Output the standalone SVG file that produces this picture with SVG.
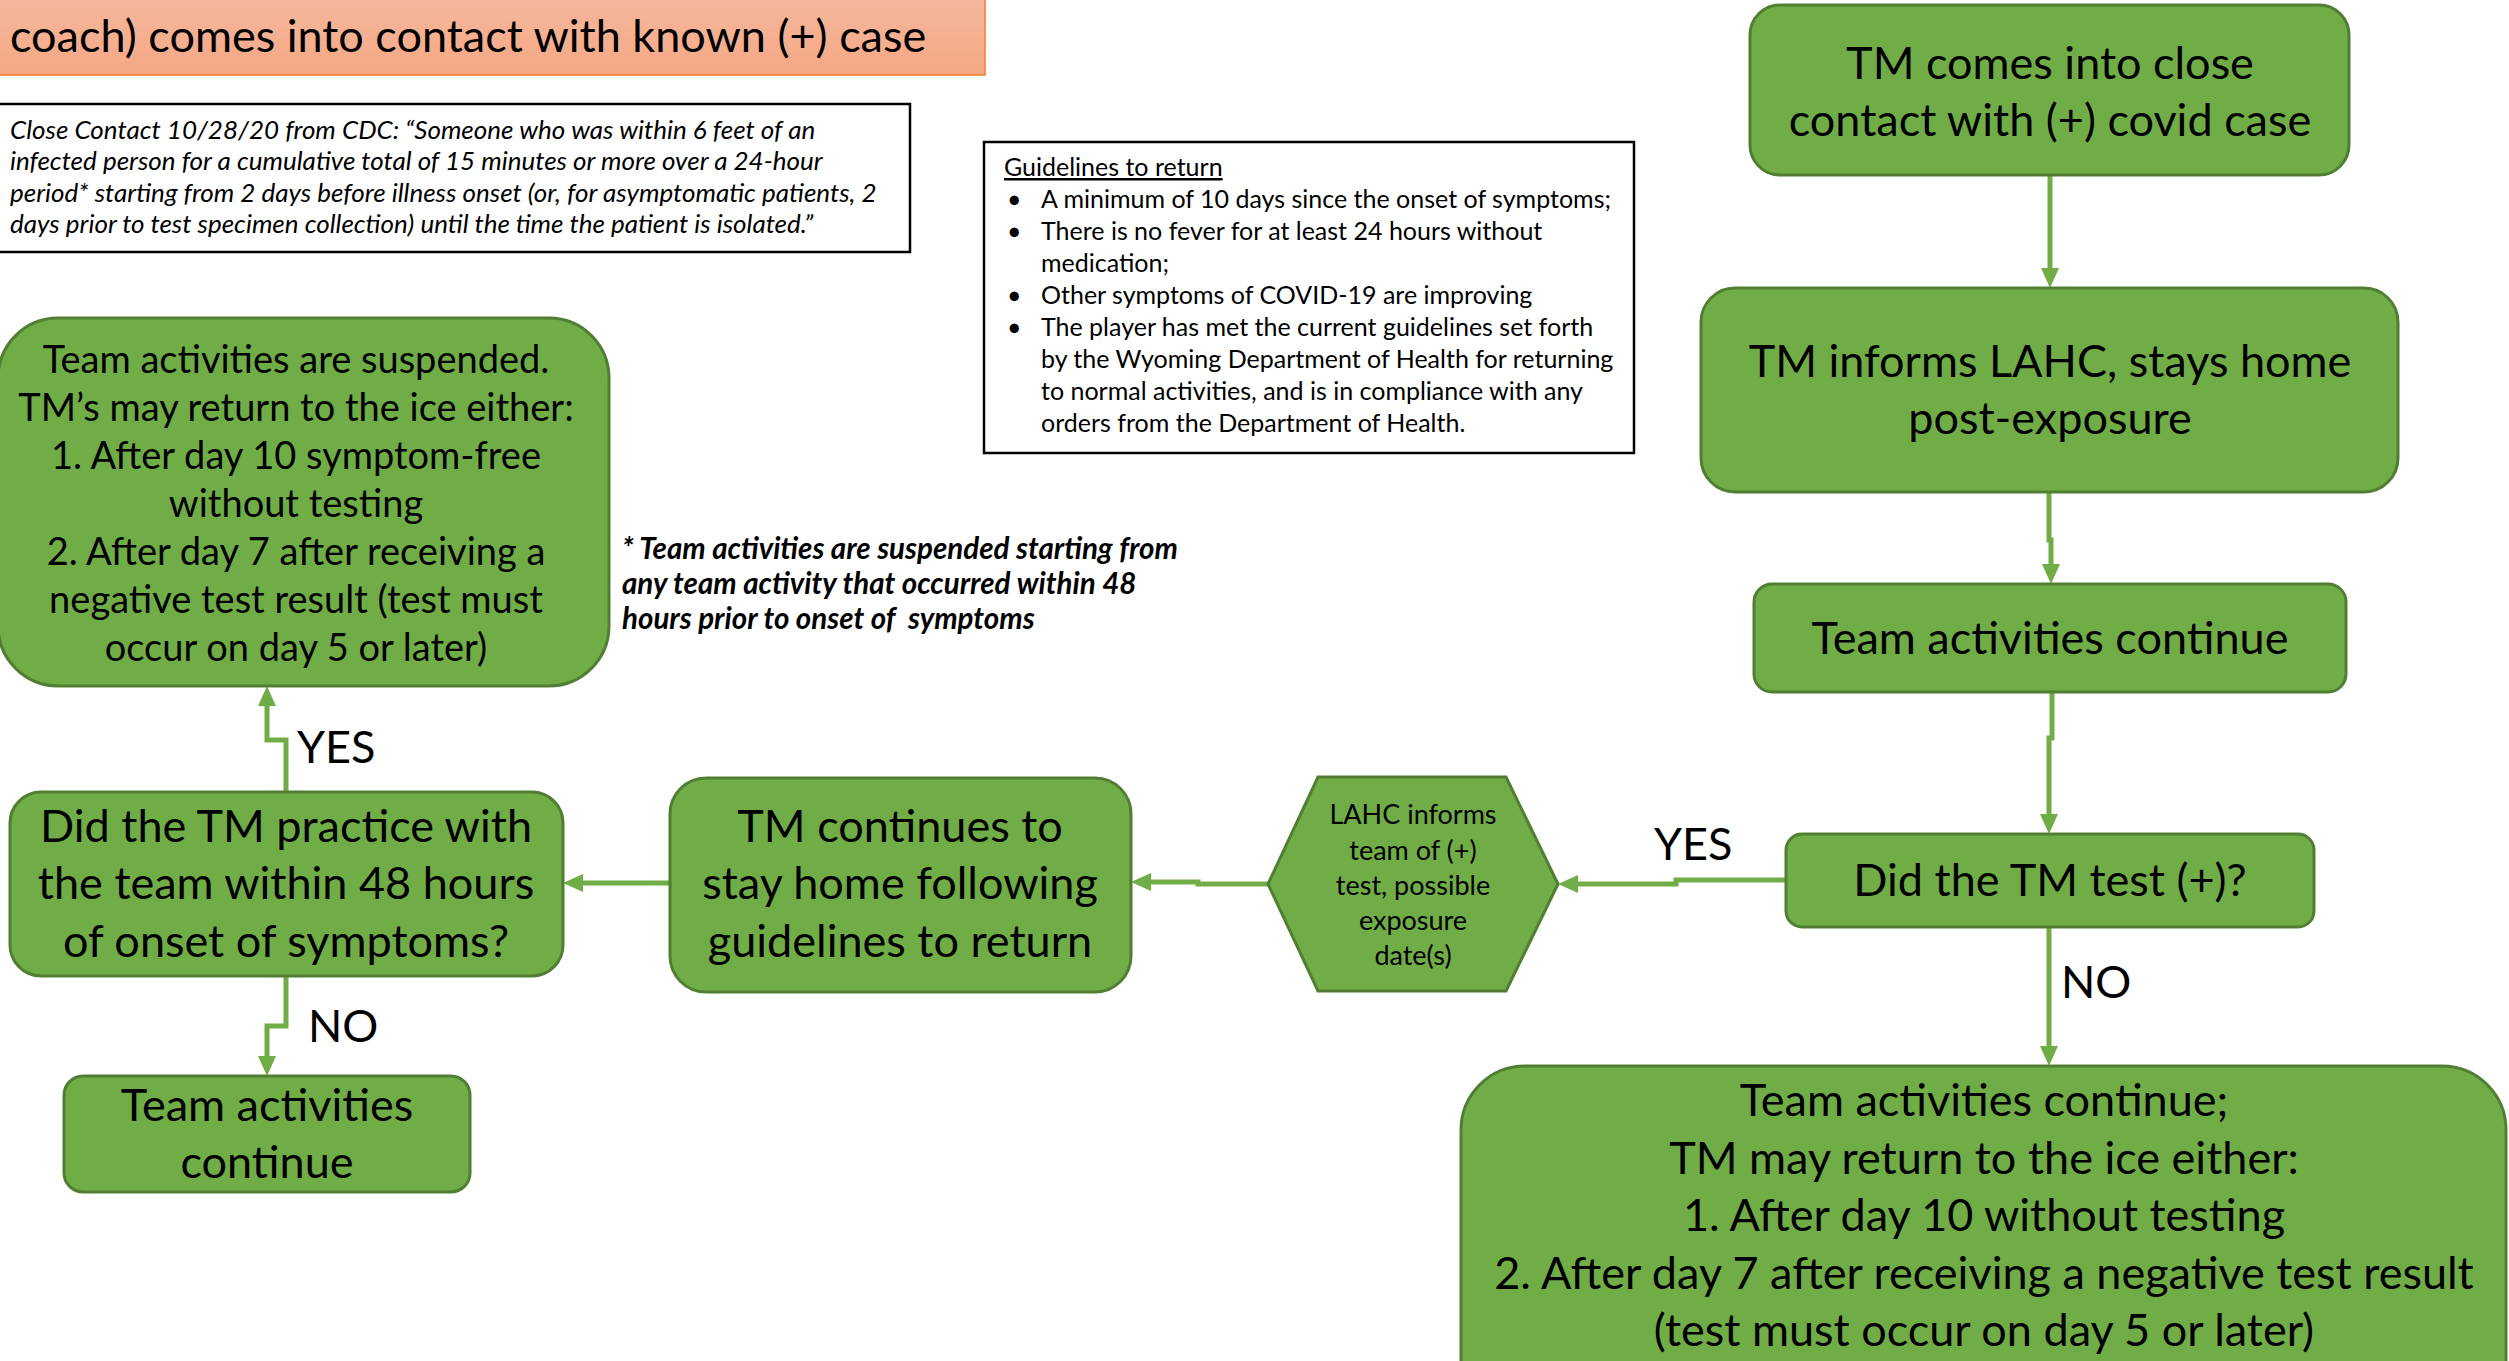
<svg xmlns="http://www.w3.org/2000/svg" width="2509" height="1361" viewBox="0 0 2509 1361">
  <defs>
    <linearGradient id="peach" x1="0" y1="0" x2="0" y2="1">
      <stop offset="0" stop-color="#F5B89E"/>
      <stop offset="1" stop-color="#F5A783"/>
    </linearGradient>
    <marker id="ah" markerUnits="userSpaceOnUse" markerWidth="20" markerHeight="20" viewBox="0 0 20 20" refX="10" refY="10" orient="auto">
      <path d="M0,1 L20,10 L0,19 z" fill="#70AD47"/>
    </marker>
    <style>
      .node { fill: #70AD47; stroke: #507E32; stroke-width: 3; }
      .box { fill: #FFFFFF; stroke: #000000; stroke-width: 2.5; }
      .t { font-family: Lato, "Liberation Sans", sans-serif; fill: #000000; text-anchor: middle; }
      .big { font-size: 45px; }
      .mid { font-size: 38px; }
      .hex { font-size: 27px; }
      .lbl { font-family: Lato, "Liberation Sans", sans-serif; font-size: 45px; fill: #000000; }
      .small { font-family: Lato, "Liberation Sans", sans-serif; font-size: 25px; fill: #000000; }
      .cdc { font-size: 26px; font-style: italic; }
      .foot { font-size: 29.5px; font-weight: bold; font-style: italic; white-space: pre; }
      .conn { fill: none; stroke: #70AD47; stroke-width: 5; marker-end: url(#ah); }
    </style>
  </defs>

  <!-- heading banner (partly above the page edge) -->
  <g id="banner">
    <rect x="-3" y="-3" width="988" height="78" fill="url(#peach)" stroke="#ED7D31" stroke-width="1.5"/>
    <text class="lbl" x="10" y="52" font-size="45.7">coach) comes into contact with known (+) case</text>
  </g>

  <!-- CDC definition of close contact -->
  <g id="close-contact">
    <rect class="box" x="-2" y="104" width="912" height="148"/>
    <text class="small cdc" x="10" y="139">Close Contact 10/28/20 from CDC: “Someone who was within 6 feet of an</text>
    <text class="small cdc" x="10" y="170">infected person for a cumulative total of 15 minutes or more over a 24-hour</text>
    <text class="small cdc" x="10" y="202">period* starting from 2 days before illness onset (or, for asymptomatic patients, 2</text>
    <text class="small cdc" x="10" y="233">days prior to test specimen collection) until the time the patient is isolated.”</text>
  </g>

  <!-- return guidelines -->
  <g id="guidelines">
    <rect class="box" x="984" y="142" width="650" height="311"/>
    <text class="small" x="1004" y="176" text-decoration="underline">Guidelines to return</text>
    <text class="small" x="1007" y="208">•</text>
    <text class="small" x="1041" y="208">A minimum of 10 days since the onset of symptoms;</text>
    <text class="small" x="1007" y="240">•</text>
    <text class="small" x="1041" y="240">There is no fever for at least 24 hours without</text>
    <text class="small" x="1041" y="272">medication;</text>
    <text class="small" x="1007" y="304">•</text>
    <text class="small" x="1041" y="304">Other symptoms of COVID-19 are improving</text>
    <text class="small" x="1007" y="336">•</text>
    <text class="small" x="1041" y="336">The player has met the current guidelines set forth</text>
    <text class="small" x="1041" y="368">by the Wyoming Department of Health for returning</text>
    <text class="small" x="1041" y="400">to normal activities, and is in compliance with any</text>
    <text class="small" x="1041" y="432">orders from the Department of Health.</text>
  </g>

  <!-- footnote on suspension -->
  <g id="note">
    <text class="small foot" x="622" y="559">* Team activities are suspended starting from</text>
    <text class="small foot" x="622" y="594">any team activity that occurred within 48</text>
    <text class="small foot" x="622" y="629" xml:space="preserve">hours prior to onset of  symptoms</text>
  </g>

  <!-- connectors -->
  <g id="connectors">
    <path class="conn" stroke-width="4" d="M2050,174 V278"/>
    <path class="conn" d="M2049,491 V540 H2051 V574"/>
    <path class="conn" d="M2052,692 V738 H2049 V824"/>
    <path class="conn" d="M2049,927 V1056"/>
    <path class="conn" d="M1786,880 H1676 V884 H1568"/>
    <path class="conn" d="M1268,884 H1198 V882 H1141"/>
    <path class="conn" d="M670,883 H573"/>
    <path class="conn" d="M286,792 V740 H267 V696"/>
    <path class="conn" d="M286,976 V1026 H267 V1066"/>
    <text class="lbl" x="1654" y="860">YES</text>
    <text class="lbl" x="2061" y="998">NO</text>
    <text class="lbl" x="297" y="763">YES</text>
    <text class="lbl" x="308" y="1042">NO</text>
  </g>

  <g id="n-contact">
    <rect class="node" x="1750" y="5" width="599" height="170" rx="30"/>
    <text class="t big" x="2050" y="79">TM comes into close</text>
    <text class="t big" x="2050" y="136">contact with (+) covid case</text>
  </g>

  <g id="n-informs">
    <rect class="node" x="1701" y="288" width="697" height="204" rx="34"/>
    <text class="t big" x="2050" y="377">TM informs LAHC, stays home</text>
    <text class="t big" x="2050" y="434">post-exposure</text>
  </g>

  <g id="n-continue">
    <rect class="node" x="1754" y="584" width="592" height="108" rx="18"/>
    <text class="t big" x="2050" y="654">Team activities continue</text>
  </g>

  <g id="n-test">
    <rect class="node" x="1786" y="834" width="528" height="93" rx="16"/>
    <text class="t big" x="2050" y="896">Did the TM test (+)?</text>
  </g>

  <g id="n-return">
    <rect class="node" x="1461" y="1066" width="1045" height="360" rx="64"/>
    <text class="t big" x="1984" y="1116">Team activities continue;</text>
    <text class="t big" x="1984" y="1174">TM may return to the ice either:</text>
    <text class="t big" x="1984" y="1231">1. After day 10 without testing</text>
    <text class="t big" x="1984" y="1289">2. After day 7 after receiving a negative test result</text>
    <text class="t big" x="1984" y="1346">(test must occur on day 5 or later)</text>
  </g>

  <g id="n-lahc">
    <polygon class="node" points="1268,884 1318,777 1506,777 1558,884 1506,991 1318,991"/>
    <text class="t hex" x="1413" y="824">LAHC informs</text>
    <text class="t hex" x="1413" y="860">team of (+)</text>
    <text class="t hex" x="1413" y="895">test, possible</text>
    <text class="t hex" x="1413" y="930">exposure</text>
    <text class="t hex" x="1413" y="965">date(s)</text>
  </g>

  <g id="n-stayhome">
    <rect class="node" x="670" y="778" width="461" height="214" rx="36"/>
    <text class="t big" x="900" y="842">TM continues to</text>
    <text class="t big" x="900" y="899">stay home following</text>
    <text class="t big" x="900" y="957">guidelines to return</text>
  </g>

  <g id="n-practice">
    <rect class="node" x="10" y="792" width="553" height="184" rx="31"/>
    <text class="t big" x="286" y="842">Did the TM practice with</text>
    <text class="t big" x="286" y="899">the team within 48 hours</text>
    <text class="t big" x="286" y="957">of onset of symptoms?</text>
  </g>

  <g id="n-suspended">
    <rect class="node" x="-2" y="318" width="611" height="368" rx="60"/>
    <text class="t mid" x="296" y="373">Team activities are suspended.</text>
    <text class="t mid" x="296" y="421">TM’s may return to the ice either:</text>
    <text class="t mid" x="296" y="469">1. After day 10 symptom-free</text>
    <text class="t mid" x="296" y="517">without testing</text>
    <text class="t mid" x="296" y="565">2. After day 7 after receiving a</text>
    <text class="t mid" x="296" y="613">negative test result (test must</text>
    <text class="t mid" x="296" y="661">occur on day 5 or later)</text>
  </g>

  <g id="n-continue-2">
    <rect class="node" x="64" y="1076" width="406" height="116" rx="19"/>
    <text class="t big" x="267" y="1121">Team activities</text>
    <text class="t big" x="267" y="1178">continue</text>
  </g>
</svg>
